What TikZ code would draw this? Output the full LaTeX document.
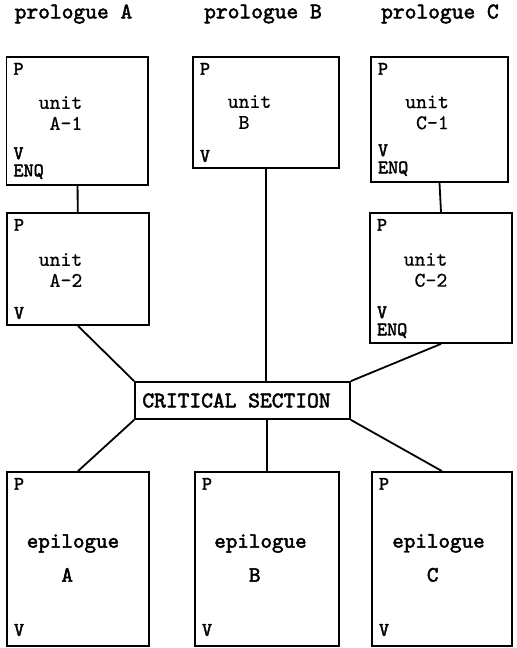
\documentclass[tikz,border=0pt]{standalone}
\usepackage{fontspec}
\setmonofont{lmmono10-regular}[Extension=.otf,
  UprightFeatures={FakeBold=0.6},
  BoldFont=lmmono10-regular, BoldFeatures={FakeBold=2.2}]
\usetikzlibrary{positioning}

\begin{document}
\begin{tikzpicture}[x=0.5pt, y=-0.5pt, line width=0.9pt,
    unitbox/.style={draw, inner sep=0pt},
    head/.style={inner sep=0pt, font=\ttfamily\bfseries\fontsize{11.2}{12}\selectfont},
    mid/.style={align=left, inner sep=0pt, font=\ttfamily\fontsize{10.4}{10.5}\selectfont},
    tag/.style={align=left, inner sep=0pt, font=\ttfamily\bfseries\fontsize{9.6}{8.6}\selectfont},
    epi/.style={align=left, inner sep=0pt, font=\ttfamily\bfseries\fontsize{11}{11.5}\selectfont}]

  \useasboundingbox (0,0) rectangle (516,648);

  % headings
  \node[head] (hdA) at (73.5,14) {prologue A};
  \node[head] (hdB) at (263,14) {prologue B};
  \node[head] (hdC) at (440,14) {prologue C};

  % prologue units
  \node[unitbox, minimum width=70.75pt, minimum height=64pt] (a1) at (77.25,121) {};
  \node[unitbox, minimum width=73pt, minimum height=55.5pt] (b) at (266,112.5) {};
  \node[unitbox, minimum width=68.5pt, minimum height=62.5pt] (c1) at (439.5,119.5) {};
  \node[unitbox, minimum width=71pt, minimum height=56pt] (a2) at (78,269) {};
  \node[unitbox, minimum width=71pt, minimum height=65pt] (c2) at (441,278) {};

  \node[mid] (a1t) at (60.5,113) {unit\\\hphantom{u}A-1};
  \node[mid] (bt) at (249.5,112) {unit\\\hphantom{u}B};
  \node[mid] (c1t) at (427,112.5) {unit\\\hphantom{u}C-1};
  \node[mid] (a2t) at (60.5,270) {unit\\\hphantom{u}A-2};
  \node[mid] (c2t) at (425.5,270) {unit\\\hphantom{u}C-2};

  \node[tag, below right=3pt and 3.5pt of a1.north west] (a1p) {P};
  \node[tag, below right=3pt and 3.5pt of b.north west] (bp) {P};
  \node[tag, below right=3pt and 3.5pt of c1.north west] (c1p) {P};
  \node[tag, below right=3pt and 3.5pt of a2.north west] (a2p) {P};
  \node[tag, below right=3pt and 3.5pt of c2.north west] (c2p) {P};

  \node[tag, above right=3pt and 3.5pt of a1.south west] (a1v) {V\\ENQ};
  \node[tag, above right=3pt and 3.5pt of b.south west] (bv) {V};
  \node[tag, above right=3pt and 3.5pt of c1.south west] (c1v) {V\\ENQ};
  \node[tag, above right=3pt and 3.5pt of a2.south west] (a2v) {V};
  \node[tag, above right=2.5pt and 3.5pt of c2.south west] (c2v) {V\\ENQ};

  % critical section
  \node[unitbox, minimum width=107.5pt, minimum height=18.5pt,
        font=\ttfamily\bfseries\fontsize{11.2}{12}\selectfont] (cs) at (242.5,400.5) {CRITICAL SECTION\hspace*{6pt}};

  % epilogues
  \node[unitbox, minimum width=71pt, minimum height=87pt] (ea) at (78,559) {};
  \node[unitbox, minimum width=72pt, minimum height=87pt] (eb) at (267,559) {};
  \node[unitbox, minimum width=70pt, minimum height=87pt] (ec) at (442,559) {};

  \node[epi] (eat) at (73,558) {epilogue\\[5.5pt]\hphantom{epi}A};
  \node[epi] (ebt) at (260.5,558) {epilogue\\[5.5pt]\hphantom{epi}B};
  \node[epi] (ect) at (438.5,558) {epilogue\\[5.5pt]\hphantom{epi}C};

  \node[tag, below right=3pt and 3.5pt of ea.north west] (eap) {P};
  \node[tag, below right=3pt and 3.5pt of eb.north west] (ebp) {P};
  \node[tag, below right=3pt and 3.5pt of ec.north west] (ecp) {P};
  \node[tag, above right=5pt and 3.5pt of ea.south west] (eav) {V};
  \node[tag, above right=5pt and 3.5pt of eb.south west] (ebv) {V};
  \node[tag, above right=5pt and 3.5pt of ec.south west] (ecv) {V};

  % connections
  \draw (a1) -- (a2);
  \draw (c1.south) -- (c2.north);
  \draw (a2.south) -- (cs.north west);
  \draw (b.south) -- (b.south |- cs.north);
  \draw (c2.south) -- (cs.north east);
  \draw (cs.south west) -- (ea.north);
  \draw (cs.south -| eb.north) -- (eb.north);
  \draw (cs.south east) -- (ec.north);
\end{tikzpicture}
\end{document}
